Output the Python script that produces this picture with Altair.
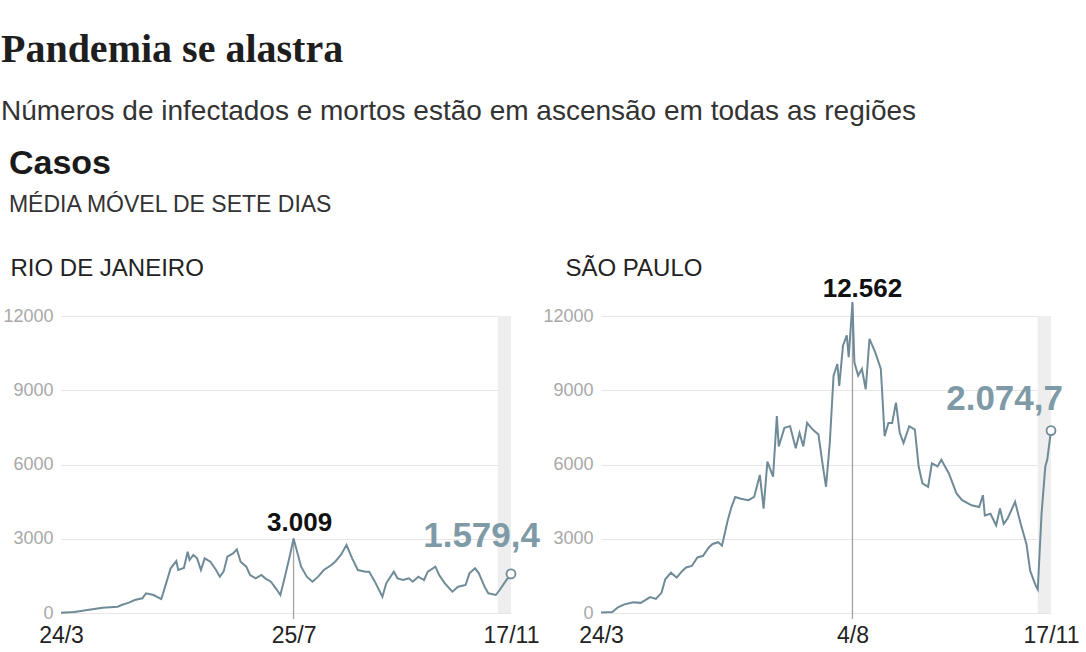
import altair as alt
import pandas as pd

START_DATE = "2020-03-24"
LAST_DAY = 238  # 17/11

# Rio de Janeiro: day offset from 24/3 and 7-day moving average of cases
rj_days = [0, 7, 14, 22, 30, 32, 36, 39, 43, 45,
           49, 53, 54, 58, 61, 62, 65, 67, 68, 70,
           72, 74, 76, 79, 82, 84, 86, 88, 91, 93,
           95, 98, 100, 103, 106, 108, 111, 114, 116, 118,
           121, 123, 127, 130, 133, 136, 139, 143, 145, 148,
           151, 154, 157, 161, 163, 166, 170, 172, 176, 178,
           181, 184, 186, 189, 192, 194, 198, 200, 203, 207,
           210, 214, 216, 219, 221, 224, 226, 230, 232, 235,
           238]
rj_cases = [15, 40, 120, 215, 255, 323, 417, 525, 592, 795,
            727, 565, 795, 1805, 2100, 1737, 1818, 2477, 2141, 2343,
            2208, 1737, 2208, 2073, 1737, 1468, 1670, 2275, 2410, 2572,
            2073, 1872, 1535, 1400, 1535, 1400, 1266, 957, 727, 1333,
            2300, 3009, 1872, 1468, 1266, 1468, 1737, 1939, 2073, 2343,
            2747, 2208, 1737, 1670, 1670, 1266, 660, 1199, 1670, 1400,
            1333, 1400, 1266, 1468, 1333, 1670, 1872, 1535, 1199, 862,
            1064, 1131, 1603, 1805, 1603, 1064, 795, 727, 929, 1266,
            1579.4]

# São Paulo
sp_days = [0, 6, 9, 12, 17, 21, 26, 29, 32, 34,
           37, 40, 43, 45, 48, 51, 54, 57, 59, 62,
           64, 67, 69, 71, 74, 78, 81, 84, 86, 88,
           91, 93, 94, 97, 100, 103, 105, 107, 109, 112,
           115, 117, 119, 121, 123, 125, 126, 128, 130, 131,
           133, 134, 136, 138, 140, 142, 145, 148, 150, 152,
           154, 156, 158, 160, 163, 166, 168, 170, 173, 175,
           178, 180, 184, 188, 191, 196, 200, 202, 203, 206,
           209, 211, 213, 215, 219, 222, 225, 227, 230, 231,
           233, 235, 236, 238]
sp_cases = [20, 40, 230, 340, 435, 410, 640, 570, 815, 1360,
            1630, 1430, 1700, 1840, 1900, 2245, 2310, 2650, 2790, 2860,
            2720, 3740, 4280, 4690, 4620, 4560, 4690, 5580, 4220, 6120,
            5510, 7960, 6730, 7480, 7550, 6660, 7280, 6730, 7680, 7410,
            7210, 6120, 5100, 6870, 9590, 10060, 9180, 10810, 11220, 10340,
            12562, 10130, 9590, 9860, 9040, 11080, 10540, 9860, 7140, 7680,
            7680, 8500, 7280, 6870, 7550, 7410, 5920, 5240, 5100, 6050,
            5920, 6190, 5640, 4830, 4560, 4350, 4280, 4760, 3940, 4010,
            3540, 4220, 3600, 3810, 4490, 3600, 2790, 1700, 1090, 950,
            4010, 5920, 6190, 7370]

y_domain = [0, 12000]
y_ticks = [0, 3000, 6000, 9000, 12000]
band_days = [231, 238]          # shaded final week

rj_tick_days = [0, 123, 238]    # 24/3, 25/7, 17/11
sp_tick_days = [0, 133, 238]    # 24/3, 4/8, 17/11
rj_peak_day, rj_peak_label = 123, "3.009"
sp_peak_day, sp_peak_label = 133, "12.562"
rj_end_label = "1.579,4"
sp_end_label = "2.074,7"

LINE = "#6f8b98"
END_TXT = "#7f9aa7"
SANS = "Liberation Sans"


def day_str(d):
    return (pd.Timestamp(START_DATE) + pd.Timedelta(days=int(d))).strftime("%Y-%m-%d")


def day_dt(d):
    t = pd.Timestamp(START_DATE) + pd.Timedelta(days=int(d))
    return alt.DateTime(year=t.year, month=t.month, date=t.day, utc=True)


def panel(name, days, cases, tick_days, peak_day, peak_label, end_label,
          title_x, peak_dx, peak_dy, end_dx, end_dy):
    df = pd.DataFrame({"date": [day_str(d) for d in days], "cases": cases})
    x_scale = alt.Scale(type="utc", domain=[day_dt(0), day_dt(LAST_DAY)])
    y_scale = alt.Scale(domain=y_domain, nice=False)
    x_axis = alt.Axis(values=[day_dt(d) for d in tick_days],
                      labelExpr="utcFormat(datum.value, '%-d/%-m')",
                      title=None, grid=False, domain=False,
                      ticks=False, labelFontSize=23, labelColor="#222",
                      labelFont=SANS, labelPadding=11, labelFlush=False,
                      labelOverlap=False)
    y_axis = alt.Axis(values=y_ticks, format="d", title=name, titleAngle=0,
                      titleX=title_x, titleY=-41, titleAlign="left",
                      titleBaseline="alphabetic", titleFontSize=24,
                      titleFontWeight="normal", titleColor="#222",
                      titleFont=SANS, grid=True, gridColor="#e6e6e6",
                      domain=False, ticks=False, labelFontSize=18,
                      labelColor="#a8a8a8", labelFont=SANS, labelPadding=8)

    def X(f):
        return alt.X(f, type="temporal", scale=x_scale, axis=x_axis)

    def Y(f):
        return alt.Y(f, type="quantitative", scale=y_scale, axis=y_axis)

    band_df = pd.DataFrame({"start": [day_str(band_days[0])],
                            "end": [day_str(band_days[1])],
                            "lo": [y_domain[0]], "hi": [y_domain[1]]})
    band = alt.Chart(band_df).mark_rect(color="#eeeeee").encode(
        x=X("start"), x2="end", y=Y("lo"), y2="hi")

    line = alt.Chart(df).mark_line(color=LINE, strokeWidth=2).encode(
        x=X("date"), y=Y("cases"))

    peak_df = df[df["date"] == day_str(peak_day)].assign(label=peak_label)
    rule = alt.Chart(peak_df).mark_rule(color="#a3a3a3", strokeWidth=1.3).encode(
        x=X("date"), y=Y("cases"), y2=alt.value(303))
    peak_txt = alt.Chart(peak_df).mark_text(
        font=SANS, fontSize=26, fontWeight="bold", color="#111",
        align="center", baseline="alphabetic", dx=peak_dx, dy=peak_dy).encode(
        x=X("date"), y=Y("cases"), text="label:N")

    end_df = df.tail(1).assign(label=end_label)
    end_pt = alt.Chart(end_df).mark_point(
        shape="circle", filled=True, fill="white", stroke=LINE,
        strokeWidth=1.8, size=80, opacity=1).encode(x=X("date"), y=Y("cases"))
    end_txt = alt.Chart(end_df).mark_text(
        font=SANS, fontSize=35, fontWeight="bold", color=END_TXT,
        align="right", baseline="alphabetic", dx=end_dx, dy=end_dy).encode(
        x=X("date"), y=Y("cases"), text="label:N")

    return alt.layer(band, rule, line, end_pt, peak_txt, end_txt).properties(
        width=450, height=297)


rj = panel("RIO DE JANEIRO", rj_days, rj_cases, rj_tick_days, rj_peak_day,
           rj_peak_label, rj_end_label, -51, 6, -8, 29, -27)
sp = panel("SÃO PAULO", sp_days, sp_cases, sp_tick_days, sp_peak_day,
           sp_peak_label, sp_end_label, -36, 10, -5, 12, -21)

inner = alt.hconcat(rj, sp, spacing=90, bounds="flush").properties(
    title=alt.TitleParams(
        text="Casos", subtitle=["MÉDIA MÓVEL DE SETE DIAS"], anchor="start",
        font=SANS, fontSize=34, fontWeight="bold", color="#1a1a1a",
        subtitleFont=SANS, subtitleFontSize=23, subtitleColor="#333",
        subtitlePadding=13, offset=39, dx=6))

chart = alt.vconcat(inner).properties(
    title=alt.TitleParams(
        text="Pandemia se alastra",
        subtitle=["Números de infectados e mortos estão em ascensão em todas as regiões"],
        anchor="start", font="Liberation Serif", fontSize=40, fontWeight="bold",
        color="#1e1e1e", subtitleFont=SANS, subtitleFontSize=28,
        subtitleColor="#333", subtitlePadding=28, offset=21, dx=-2),
    padding={"left": 0, "top": 30, "right": 5, "bottom": 0},
    background="white",
).configure_view(stroke=None)

chart.save("out.html", embed_options={"renderer": "svg", "actions": False})
